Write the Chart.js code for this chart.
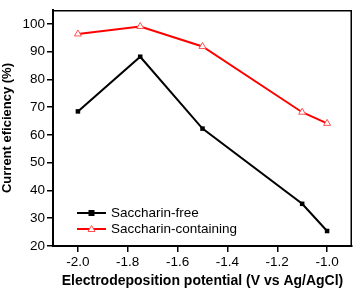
<!DOCTYPE html>
<html>
<head>
<meta charset="utf-8">
<script src="https://cdn.jsdelivr.net/npm/chart.js@4/dist/chart.umd.min.js"></script>
<style>
html,body{margin:0;padding:0;background:#fff;}
#wrap{width:357px;height:290px;position:relative;}
</style>
</head>
<body>
<div id="wrap"><canvas id="c" width="357" height="290"></canvas></div>
<script>
const potentials = [-2.0, -1.75, -1.5, -1.1, -1.0];
const saccharinFree = [68.5, 88.2, 62.3, 35.2, 25.4];
const saccharinContaining = [96.4, 99.1, 91.9, 68.2, 64.2];
const xTickValues = [-2.0, -1.8, -1.6, -1.4, -1.2, -1.0];
const yTickValues = [20, 30, 40, 50, 60, 70, 80, 90, 100];
const seriesNames = ['Saccharin-free', 'Saccharin-containing'];
const xTitle = 'Electrodeposition potential (V vs Ag/AgCl)';
const yTitle = 'Current eficiency (%)';

const FONT = 'Liberation Sans, Arial, Helvetica, sans-serif';

const frame = {
  id: 'frame',
  afterDraw(chart) {
    const a = chart.chartArea, ctx = chart.ctx;
    ctx.save();
    ctx.strokeStyle = '#000';
    ctx.lineWidth = 1.5;
    ctx.beginPath();
    ctx.moveTo(a.left, a.top + 0.75);
    ctx.lineTo(a.right - 0.75, a.top + 0.75);
    ctx.lineTo(a.right - 0.75, a.bottom);
    ctx.stroke();
    // legend
    const items = [
      {name: seriesNames[0], color: '#000', style: 'rect'},
      {name: seriesNames[1], color: '#ff0000', style: 'tri'}
    ];
    const x0 = 77, x1 = 106, ys = [213, 229];
    items.forEach((it, i) => {
      const y = ys[i];
      ctx.strokeStyle = it.color;
      ctx.lineWidth = 2;
      ctx.beginPath();
      ctx.moveTo(x0, y); ctx.lineTo(x1, y); ctx.stroke();
      const cx = (x0 + x1) / 2;
      if (it.style === 'rect') {
        ctx.fillStyle = '#000';
        ctx.fillRect(cx - 3, y - 3, 6, 6);
      } else {
        ctx.fillStyle = '#fff';
        ctx.lineWidth = 1;
        ctx.strokeStyle = '#ff5050';
        ctx.beginPath();
        ctx.moveTo(cx, y - 3.5); ctx.lineTo(cx + 3.5, y + 2.5); ctx.lineTo(cx - 3.5, y + 2.5); ctx.closePath();
        ctx.fill(); ctx.stroke();
      }
      ctx.fillStyle = '#000';
      ctx.font = '13.5px ' + FONT;
      ctx.textBaseline = 'middle';
      ctx.textAlign = 'left';
      ctx.fillText(it.name, 111, y + 0.5);
    });
    ctx.restore();
  }
};

new Chart(document.getElementById('c'), {
  type: 'line',
  data: {
    datasets: [
      {
        label: seriesNames[0],
        data: potentials.map((x, i) => ({x, y: saccharinFree[i]})),
        borderColor: '#000',
        borderWidth: 2,
        pointStyle: 'rect',
        pointRadius: 3.2,
        pointBackgroundColor: '#000',
        pointBorderColor: '#000',
        pointBorderWidth: 0,
        tension: 0
      },
      {
        label: seriesNames[1],
        data: potentials.map((x, i) => ({x, y: saccharinContaining[i]})),
        borderColor: '#ff0000',
        borderWidth: 2,
        pointStyle: 'triangle',
        pointRadius: 4,
        pointBackgroundColor: '#fff',
        pointBorderColor: '#ff5050',
        pointBorderWidth: 1,
        tension: 0
      }
    ]
  },
  options: {
    responsive: false,
    animation: false,
    layout: {padding: {top: 1, right: 1, left: 0, bottom: 0}},
    plugins: {legend: {display: false}, tooltip: {enabled: false}},
    scales: {
      x: {
        type: 'linear',
        min: -2.1, max: -0.9,
        afterBuildTicks: s => { s.ticks = xTickValues.map(v => ({value: v})); },
        afterFit: s => { s.height = 44; },
        border: {display: true, color: '#000', width: 2},
        grid: {drawOnChartArea: false, drawTicks: true, tickLength: 6, color: '#000', lineWidth: 1.5},
        ticks: {color: '#000', font: {family: FONT, size: 13.5}, padding: 2, maxRotation: 0,
          callback: v => v.toFixed(1)},
        title: {display: true, text: xTitle, color: '#000', font: {family: FONT, size: 14, weight: 'bold'}, padding: {top: 3, bottom: 0}}
      },
      y: {
        type: 'linear',
        min: 20, max: 105,
        afterBuildTicks: s => { s.ticks = yTickValues.map(v => ({value: v})); },
        afterFit: s => { s.width = 53; },
        border: {display: true, color: '#000', width: 2},
        grid: {drawOnChartArea: false, drawTicks: true, tickLength: 6, color: '#000', lineWidth: 1.5},
        ticks: {color: '#000', font: {family: FONT, size: 13.5}, padding: 2},
        title: {display: true, text: yTitle, color: '#000', font: {family: FONT, size: 13, weight: 'bold'}, padding: {top: 0, bottom: 3}}
      }
    }
  },
  plugins: [frame]
});
</script>
</body>
</html>
